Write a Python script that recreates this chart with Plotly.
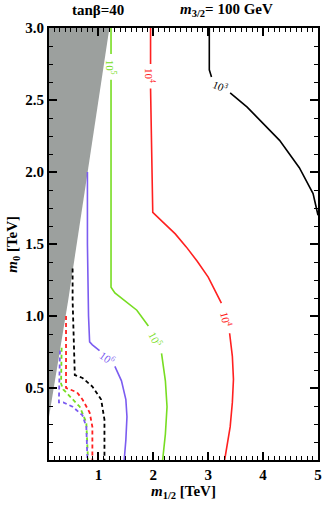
import plotly.graph_objects as go

# ---------------- data ----------------
# excluded (gray) region boundary
gray_x = [0.1, 1.2, 0.78, 0.45, 0.1]
gray_y = [3.0, 3.0, 1.94, 1.11, 0.3]

# solid contours
black_x = [3.02, 3.02, 3.06, None, 3.40, 3.71, 4.30, 4.66, 4.91, 5.0]
black_y = [3.0, 2.71, 2.66, None, 2.55, 2.45, 2.22, 2.03, 1.85, 1.70]

red_x = [1.95, 1.95, None, 1.95, 1.97, 1.99, 2.18, 2.40, 2.60, 2.80, 3.00, 3.15, 3.24,
         None, 3.39, 3.44, 3.46, 3.44, 3.40, 3.35, 3.30]
red_y = [3.0, 2.75, None, 2.58, 2.0, 1.72, 1.65, 1.57, 1.48, 1.38, 1.27, 1.16, 1.09,
         None, 0.88, 0.72, 0.56, 0.40, 0.23, 0.10, 0.0]

green_x = [1.23, 1.23, None, 1.23, 1.23, 1.30, 1.50, 1.70, 1.91,
           None, 2.15, 2.22, 2.25, 2.22, 2.17]
green_y = [3.0, 2.82, None, 2.64, 1.20, 1.16, 1.10, 1.04, 0.93,
           None, 0.74, 0.55, 0.37, 0.18, 0.0]

purple_x = [0.80, 0.80, 0.82, 0.84, 0.89, 1.02, None, 1.30, 1.42, 1.50, 1.52, 1.50, 1.47]
purple_y = [2.00, 1.50, 1.00, 0.82, 0.80, 0.76, None, 0.65, 0.55, 0.42, 0.30, 0.14, 0.0]

# dashed contours
black_d_x = [0.53, 0.53, 0.57, 0.71, 0.89, 1.05, 1.11, 1.11]
black_d_y = [1.33, 1.11, 0.59, 0.57, 0.51, 0.42, 0.28, 0.0]

red_d_x = [0.41, 0.41, 0.48, 0.61, 0.71, 0.84, 0.89, 0.89]
red_d_y = [1.0, 0.50, 0.49, 0.47, 0.42, 0.33, 0.23, 0.0]

green_d_x = [0.33, 0.32, 0.36, 0.51, 0.66, 0.78, 0.81]
green_d_y = [0.78, 0.53, 0.49, 0.43, 0.37, 0.26, 0.0]

purple_d_x = [0.30, 0.28, 0.36, 0.53, 0.71, 0.78, 0.80]
purple_d_y = [0.76, 0.40, 0.40, 0.37, 0.31, 0.23, 0.0]

# contour labels: text, x, y, angle
label_text = ["10<sup>3</sup>", "10<sup>4</sup>", "10<sup>5</sup>", "10<sup>4</sup>", "10<sup>5</sup>", "10<sup>6</sup>"]
label_x = [3.22, 1.95, 1.23, 3.33, 2.04, 1.17]
label_y = [2.60, 2.67, 2.73, 0.98, 0.84, 0.71]
label_angle = [22, 90, 90, 76, 62, 35]
label_color = ["black", "#ff2020", "#77dd22", "#ff2020", "#77dd22", "#7b5cf0"]

x_ticks = [1, 2, 3, 4, 5]
y_ticks = [0.5, 1.0, 1.5, 2.0, 2.5, 3.0]

RED = "#ff2020"
GREEN = "#77dd22"
PURPLE = "#7b5cf0"
FONT = "Liberation Serif"

fig = go.Figure()
fig.add_trace(go.Scatter(x=gray_x, y=gray_y, fill="toself", fillcolor="rgb(156,160,158)",
                         line=dict(width=0), mode="lines", hoverinfo="skip"))

def add_line(x, y, color, dash="solid", width=1.6):
    fig.add_trace(go.Scatter(x=x, y=y, mode="lines", line=dict(color=color, width=width, dash=dash),
                             connectgaps=False, hoverinfo="skip"))

add_line(black_x, black_y, "black")
add_line(red_x, red_y, RED)
add_line(green_x, green_y, GREEN)
add_line(purple_x, purple_y, PURPLE)
add_line(black_d_x, black_d_y, "black", "4px,3px", 1.8)
add_line(red_d_x, red_d_y, RED, "4px,3px", 1.8)
add_line(green_d_x, green_d_y, GREEN, "4px,3px", 1.8)
add_line(purple_d_x, purple_d_y, PURPLE, "4px,3px", 1.8)

for t, x, y, a, c in zip(label_text, label_x, label_y, label_angle, label_color):
    fig.add_annotation(x=x, y=y, text=t, textangle=a, showarrow=False,
                       xanchor="center", yanchor="middle",
                       font=dict(family=FONT, size=11, color=c))

# titles
fig.add_annotation(x=1.0, y=1.042, xref="x", yref="paper", text="<b>tanβ=40</b>", showarrow=False,
                   xanchor="center", yanchor="middle",
                   font=dict(family=FONT, size=15, color="black"))
fig.add_annotation(x=3.33, y=1.042, xref="x", yref="paper",
                   text="<b><i>m</i><sub>3/2</sub>= 100 GeV</b>", showarrow=False,
                   xanchor="center", yanchor="middle",
                   font=dict(family=FONT, size=15, color="black"))
# axis titles
fig.add_annotation(x=0.5, y=-0.075, xref="paper", yref="paper",
                   text="<b><i>m</i><sub>1/2</sub> [TeV]</b>", showarrow=False,
                   xanchor="center", yanchor="middle",
                   font=dict(family=FONT, size=15, color="black"))
fig.add_annotation(x=-0.135, y=0.5, xref="paper", yref="paper", textangle=-90,
                   text="<b><i>m</i><sub>0</sub> [TeV]</b>", showarrow=False,
                   xanchor="center", yanchor="middle",
                   font=dict(family=FONT, size=15, color="black"))

fig.update_xaxes(range=[0.1, 5], tickvals=x_ticks, ticktext=[str(v) for v in x_ticks],
                 ticks="inside", ticklen=8, tickwidth=1.5, tickcolor="black",
                 showline=True, linecolor="black", linewidth=2, mirror="allticks",
                 showgrid=False, zeroline=False,
                 minor=dict(dtick=0.1, tick0=0, ticks="inside", ticklen=4, tickwidth=1, tickcolor="black"),
                 tickfont=dict(family=FONT, size=15, color="black", weight="bold"))
fig.update_yaxes(range=[0, 3], tickvals=y_ticks, ticktext=[f"{v:.1f}" for v in y_ticks],
                 ticks="inside", ticklen=8, tickwidth=1.5, tickcolor="black",
                 showline=True, linecolor="black", linewidth=2, mirror="allticks",
                 showgrid=False, zeroline=False,
                 minor=dict(dtick=0.125, tick0=0, ticks="inside", ticklen=4, tickwidth=1, tickcolor="black"),
                 tickfont=dict(family=FONT, size=15, color="black", weight="bold"))

fig.update_layout(width=327, height=505, margin=dict(l=49, r=5, t=28, b=45),
                  plot_bgcolor="white", paper_bgcolor="white", showlegend=False)

fig.write_html("out.html", config={"displayModeBar": False},
               post_script="document.body.style.margin='0px';document.body.style.overflow='hidden';")
